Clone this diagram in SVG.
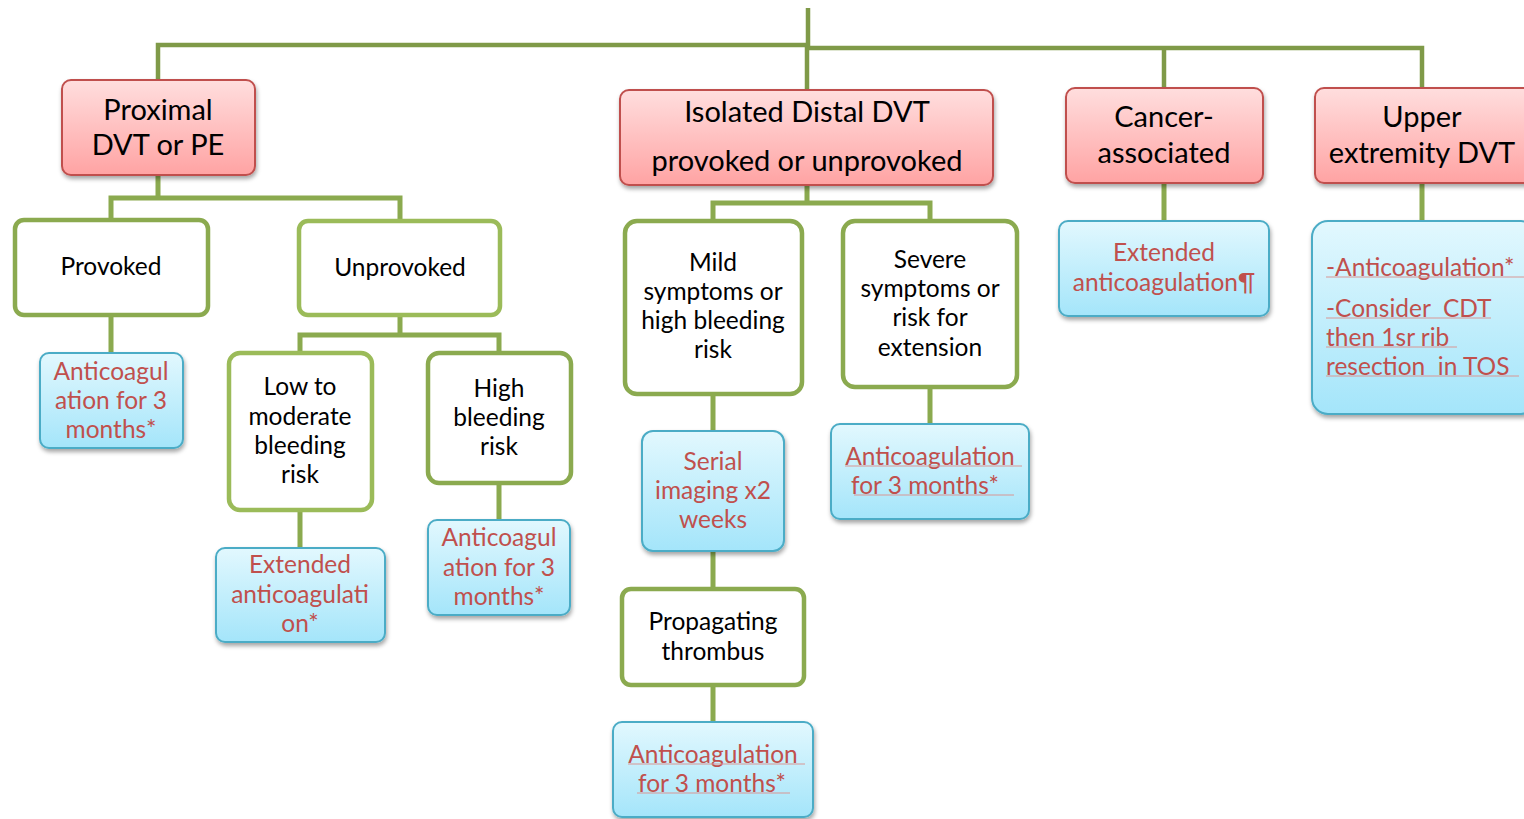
<svg xmlns="http://www.w3.org/2000/svg" width="1524" height="819" viewBox="0 0 1524 819">
<style>
.t{font-family:Lato,"Liberation Sans",sans-serif;text-anchor:middle;fill:#000;font-size:24.5px}
.h{font-family:Lato,"Liberation Sans",sans-serif;text-anchor:middle;fill:#000;font-size:29px}
.r{font-family:Lato,"Liberation Sans",sans-serif;text-anchor:middle;fill:#C0504D;font-size:24.5px}
.rl{font-family:Lato,"Liberation Sans",sans-serif;fill:#C0504D;font-size:24.5px}
.g1{fill:#fff;stroke:#8BAA4F;stroke-width:4.5}
.g2{fill:#fff;stroke:#9BBB59;stroke-width:4.5}
.red{fill:url(#rg);stroke:#C0504D;stroke-width:2;filter:url(#sh)}
.blue{fill:url(#bg);stroke:#4BACC6;stroke-width:2;filter:url(#sh)}
.c{fill:none;stroke:#7F9A48;stroke-width:4.5}
.c2{fill:none;stroke:#8BAA4F;stroke-width:5}
.u{stroke:#D99694;stroke-width:1}
</style>
<defs>
<linearGradient id="rg" x1="0" y1="0" x2="0" y2="1"><stop offset="0" stop-color="#FFDEDE"/><stop offset="1" stop-color="#FFA3A3"/></linearGradient>
<linearGradient id="bg" x1="0" y1="0" x2="0" y2="1"><stop offset="0" stop-color="#E2F8FE"/><stop offset="1" stop-color="#A4E5FA"/></linearGradient>
<filter id="sh" x="-10%" y="-10%" width="130%" height="140%"><feDropShadow dx="1" dy="3" stdDeviation="2" flood-color="#000" flood-opacity="0.35"/></filter>
</defs>
<g id="connectors">
<path class="c" d="M808 8V48M158 80V45H808M807 90V48H1422V88M1164 48V88"/>
<path class="c2" d="M158 175V198M111 220V198H400V221M111 315V353M400 315V335M300 353V335H499V353M300 510V548M499 483V520"/>
<path class="c2" d="M807 185V203M713 221V203H930V221M713 394V431M930 387V424M713 551V589M713 685V722M1164 183V221M1422 183V221"/>
</g>
<g id="proximal"><rect class="red" x="62" y="80" width="193" height="95" rx="9"/><text class="h" x="158" y="120">Proximal</text><text class="h" x="158" y="155">DVT or PE</text></g>
<g id="provoked"><rect class="g1" x="15" y="220" width="193" height="95" rx="9"/><text class="t" x="111" y="275">Provoked</text></g>
<g id="unprovoked"><rect class="g2" x="299" y="221" width="201" height="94" rx="9"/><text class="t" x="400" y="276">Unprovoked</text></g>
<g id="prov-anticoag"><rect class="blue" x="40" y="353" width="143" height="95" rx="9"/><text class="r" x="111" y="380">Anticoagul</text><text class="r" x="111" y="409">ation for 3</text><text class="r" x="111" y="438">months*</text></g>
<g id="low-moderate"><rect class="g2" x="229" y="353" width="143" height="157" rx="11"/><text class="t" x="300" y="395">Low to</text><text class="t" x="300" y="425">moderate</text><text class="t" x="300" y="454">bleeding</text><text class="t" x="300" y="483">risk</text></g>
<g id="high-bleeding"><rect class="g1" x="428" y="353" width="143" height="130" rx="11"/><text class="t" x="499" y="397">High</text><text class="t" x="499" y="426">bleeding</text><text class="t" x="499" y="455">risk</text></g>
<g id="extended-low"><rect class="blue" x="216" y="548" width="169" height="94" rx="9"/><text class="r" x="300" y="573">Extended</text><text class="r" x="300" y="603">anticoagulati</text><text class="r" x="300" y="632">on*</text></g>
<g id="high-anticoag"><rect class="blue" x="428" y="520" width="142" height="95" rx="9"/><text class="r" x="499" y="546">Anticoagul</text><text class="r" x="499" y="576">ation for 3</text><text class="r" x="499" y="605">months*</text></g>
<g id="isolated"><rect class="red" x="620" y="90" width="373" height="95" rx="9"/><text class="h" x="807" y="122">Isolated Distal DVT</text><text class="h" x="807" y="171">provoked or unprovoked</text></g>
<g id="mild"><rect class="g1" x="625" y="221" width="177" height="173" rx="12"/><text class="t" x="713" y="271">Mild</text><text class="t" x="713" y="300">symptoms or</text><text class="t" x="713" y="329">high bleeding</text><text class="t" x="713" y="358">risk</text></g>
<g id="severe"><rect class="g1" x="843" y="221" width="174" height="166" rx="12"/><text class="t" x="930" y="268">Severe</text><text class="t" x="930" y="297">symptoms or</text><text class="t" x="930" y="326">risk for</text><text class="t" x="930" y="356">extension</text></g>
<g id="serial"><rect class="blue" x="642" y="431" width="142" height="120" rx="11"/><text class="r" x="713" y="470">Serial</text><text class="r" x="713" y="499">imaging x2</text><text class="r" x="713" y="528">weeks</text></g>
<g id="severe-anticoag"><rect class="blue" x="831" y="424" width="198" height="95" rx="9"/><text class="r" x="930" y="465">Anticoagulation</text><line class="u" x1="845" y1="466" x2="1022" y2="466"/><text class="r" x="925" y="494">for 3 months*</text><line class="u" x1="854" y1="495" x2="1014" y2="495"/></g>
<g id="propagating"><rect class="g1" x="622" y="589" width="182" height="96" rx="9"/><text class="t" x="713" y="630">Propagating</text><text class="t" x="713" y="660">thrombus</text></g>
<g id="prop-anticoag"><rect class="blue" x="613" y="722" width="200" height="95" rx="9"/><text class="r" x="713" y="763">Anticoagulation</text><line class="u" x1="628" y1="764" x2="805" y2="764"/><text class="r" x="712" y="792">for 3 months*</text><line class="u" x1="637" y1="793" x2="790" y2="793"/></g>
<g id="cancer"><rect class="red" x="1066" y="88" width="197" height="95" rx="9"/><text class="h" x="1164" y="127">Cancer-</text><text class="h" x="1164" y="163">associated</text></g>
<g id="cancer-ext"><rect class="blue" x="1059" y="221" width="210" height="95" rx="9"/><text class="r" x="1164" y="261">Extended</text><text class="r" x="1164" y="291">anticoagulation¶</text></g>
<g id="upper"><rect class="red" x="1315" y="88" width="220" height="95" rx="9"/><text class="h" x="1422" y="127">Upper</text><text class="h" x="1422" y="163">extremity DVT</text></g>
<g id="upper-tx"><rect class="blue" x="1312" y="221" width="225" height="193" rx="16"/>
<text class="rl" x="1326" y="276">-Anticoagulation*</text><line class="u" x1="1326" y1="277" x2="1524" y2="277"/>
<text class="rl" x="1326" y="317" xml:space="preserve">-Consider  CDT</text><line class="u" x1="1326" y1="318" x2="1491" y2="318"/>
<text class="rl" x="1326" y="346">then 1sr rib</text><line class="u" x1="1326" y1="347" x2="1457" y2="347"/>
<text class="rl" x="1326" y="375" xml:space="preserve">resection  in TOS</text><line class="u" x1="1326" y1="376" x2="1519" y2="376"/>
</g>
</svg>
